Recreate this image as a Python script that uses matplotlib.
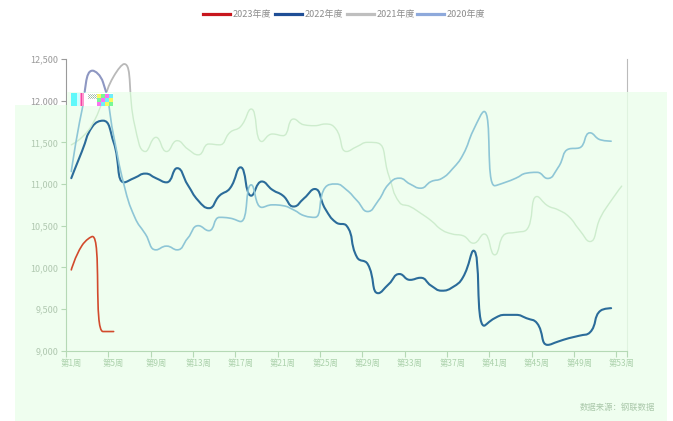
import numpy as np
import matplotlib.pyplot as plt
from matplotlib.path import Path
from matplotlib.patches import PathPatch, Polygon
from matplotlib.lines import Line2D

plt.rcParams['font.family'] = ['Liberation Sans Narrow', 'Noto Sans CJK SC', 'DejaVu Sans']

# ---- data (weekly price) ----
series_labels = ['2023年度', '2022年度', '2021年度', '2020年度']

price_2023 = [9970, 10260, 10370, 9230, 9230]

price_2022 = [11070, 11390, 11690, 11760, 11500, 11020, 11075, 11125, 11070, 11020,
              11190, 10990, 10800, 10710, 10860, 10950, 11200, 10860, 11030, 10930,
              10860, 10730, 10830, 10940, 10700, 10540, 10500, 10120, 10040, 9690,
              9800, 9920, 9850, 9875, 9780, 9720, 9760, 9880, 10200, 9300,
              9390, 9430, 9430, 9390, 9330, 9070, 9110, 9150, 9180, 9220,
              9480, 9510]

price_2021 = [11470, 11560, 11720, 12000, 12290, 12440, 11700, 11390, 11560, 11390,
              11520, 11420, 11350, 11480, 11470, 11620, 11690, 11900, 11510, 11600,
              11580, 11780, 11710, 11700, 11720, 11660, 11390, 11450, 11500, 11490,
              11100, 10780, 10730, 10650, 10560, 10450, 10400, 10380, 10290, 10400,
              10150, 10400, 10420, 10450, 10850, 10740, 10690, 10610, 10450, 10310,
              10600, 10800, 10975]

price_2020 = [11150, 11880, 12360, 12220, 11580, 10980, 10600, 10400, 10210, 10255,
              10210, 10350, 10500, 10440, 10600, 10590, 10550, 10990, 10720, 10750,
              10740, 10690, 10620, 10600, 10960, 11000, 10930, 10800, 10670, 10800,
              11000, 11070, 11000, 10950, 11030, 11067, 11180, 11350, 11650, 11870,
              10980, 11020, 11070, 11130, 11140, 11067, 11200, 11420, 11434, 11614,
              11530, 11514]

all_prices = [price_2023, price_2022, price_2021, price_2020]
n_weeks = 53
label_weeks = list(range(1, 54, 4))
y_ticks = list(range(9000, 12501, 500))

# colours: as drawn above the green panel, and as they look under it
colors_top = ['#c8161d', '#1f4e96', '#b9b9b9', '#8e97c2']
colors_in = ['#d24a2c', '#2b6c9a', '#cdeccd', '#8ec6d6']
legend_colors = ['#c8161d', '#1f4e96', '#bfbfbf', '#8ea9db']
widths = [1.2, 1.5, 1.0, 1.2]


def smooth_path(xs, ys, k=0.5):
    # echarts-like bezier smoothing, worked out in (roughly) pixel units
    sx, sy = 10.58, 41.7 / 500.0
    P = np.column_stack([np.asarray(xs, float) * sx, np.asarray(ys, float) * sy])
    n = len(P)
    verts = [P[0]]
    codes = [Path.MOVETO]
    out_cp = P[0]
    for i in range(1, n):
        cur = P[i]
        if i < n - 1:
            prev, nxt = P[i - 1], P[i + 1]
            v = nxt - prev
            d0 = np.hypot(*(cur - prev))
            d1 = np.hypot(*(nxt - cur))
            r = d1 / (d0 + d1)
            cout = cur + v * k * r
            cout = np.clip(cout, np.minimum(cur, nxt), np.maximum(cur, nxt))
            cin = cur - (cout - cur) * d0 / d1
            cin = np.clip(cin, np.minimum(prev, cur), np.maximum(prev, cur))
            cout = cur + (cur - cin) * d1 / d0
        else:
            cin = cur
            cout = cur
        verts += [out_cp, cin, cur]
        codes += [Path.CURVE4] * 3
        out_cp = cout
    verts = np.array(verts) / [sx, sy]
    return Path(verts, codes)


W, H = 673, 421
fig = plt.figure(figsize=(W / 100, H / 100), dpi=100)
rect = [66 / W, 1 - 350.7 / H, (627 - 66) / W, (350.7 - 59) / H]

ax1 = fig.add_axes(rect)
ax2 = fig.add_axes(rect)
ax2.set_zorder(2)
ax2.patch.set_visible(False)

for ax in (ax1, ax2):
    ax.set_xlim(0.5, n_weeks + 0.5)
    ax.set_ylim(9000, 12500)
    ax.spines['top'].set_visible(False)

# the light green panel sitting over the chart
panel_px = [(15, 421), (15, 105), (67, 105), (67, 92), (667, 92), (667, 421)]
panel_pts = [(x / W, 1 - y / H) for x, y in panel_px]
panel = Polygon(panel_pts, closed=True, transform=fig.transFigure,
                facecolor='#effeef', edgecolor='none', zorder=1)
fig.add_artist(panel)
clip_shape = Polygon(panel_pts, closed=True, transform=fig.transFigure)

# ---- lower axes: original colours, only seen above the panel ----
ax1.spines['bottom'].set_visible(False)
ax1.spines['left'].set_color('#9a9a9a')
ax1.spines['right'].set_color('#bbbbbb')
ax1.set_xticks([])
ax1.set_yticks(y_ticks)
ax1.set_yticklabels([f'{v:,}' for v in y_ticks])
ax1.tick_params(axis='y', colors='#9a9a9a', labelsize=6.5, length=3.5, width=0.8, pad=2)

for prices, c, lw in zip(all_prices, colors_top, widths):
    wk = np.arange(1, len(prices) + 1)
    ax1.add_patch(PathPatch(smooth_path(wk, prices), facecolor='none', edgecolor=c,
                            lw=lw + 0.3, capstyle='round', joinstyle='round'))

# ---- upper axes: tinted colours, clipped to the panel ----
pale = '#b5d9b5'
ax2.spines['left'].set_bounds(9000, 11946)
ax2.spines['right'].set_bounds(9000, 12102)
ax2.spines['left'].set_color(pale)
ax2.spines['right'].set_color('#dff3df')
ax2.spines['bottom'].set_color(pale)
ax2.set_yticks(y_ticks[:-2])
ax2.set_yticklabels([f'{v:,}' for v in y_ticks[:-2]])
ax2.tick_params(axis='y', colors=pale, labelcolor='#b0c8b0', labelsize=6.5,
                length=3.5, width=0.8, pad=2)

ax2.set_xticks([w - 0.5 for w in label_weeks] + [n_weeks + 0.5])
ax2.set_xticklabels([])
ax2.tick_params(axis='x', which='major', colors=pale, length=4, width=0.8)
ax2.set_xticks(label_weeks, minor=True)
ax2.set_xticklabels([f'第{w}周' for w in label_weeks], minor=True)
ax2.tick_params(axis='x', which='minor', length=0, labelsize=6, labelcolor='#acd2ac', pad=6)

for prices, c, lw in zip(all_prices, colors_in, widths):
    wk = np.arange(1, len(prices) + 1)
    pp = PathPatch(smooth_path(wk, prices), facecolor='none', edgecolor=c,
                   lw=lw, capstyle='round', joinstyle='round')
    ax2.add_patch(pp)
    pp.set_clip_path(clip_shape)

# little broken tooltip remnant near the top-left
blk = np.full((13, 42, 3), 255, dtype=np.uint8)
blk[:, 0:6] = (95, 248, 250)
blk[:, 6:9] = (205, 255, 255)
blk[:, 9:13] = (255, 150, 205)
blk[:, 10] = (240, 70, 165)
blk[1:6:2, 17:26:2] = (190, 200, 190)
blk[2:6:2, 18:26:2] = (150, 190, 160)
cells = [(248, 248, 95), (120, 248, 150), (250, 115, 240), (110, 238, 250)]
for r in range(3):
    for c in range(4):
        blk[r * 4 + 1:r * 4 + 5, 26 + c * 4:30 + c * 4] = cells[(r + c) % 4]
fig.figimage(blk, xo=71, yo=H - 106, origin='upper', zorder=5)

# legend across the top
lx = [203, 275, 347, 417]
for x0, lab, c in zip(lx, series_labels, legend_colors):
    fig.add_artist(Line2D([x0 / W, (x0 + 27) / W], [1 - 14 / H, 1 - 14 / H],
                          transform=fig.transFigure, color=c, lw=2.3))
    fig.text((x0 + 30) / W, 1 - 14 / H, lab, fontsize=6.5, color='#8c8c8c',
             ha='left', va='center')

fig.text(655 / W, 1 - 407 / H, '数据来源：钢联数据', fontsize=6, color='#aac8aa',
         ha='right', va='center', zorder=6)

fig.savefig('out.png', dpi=100)
